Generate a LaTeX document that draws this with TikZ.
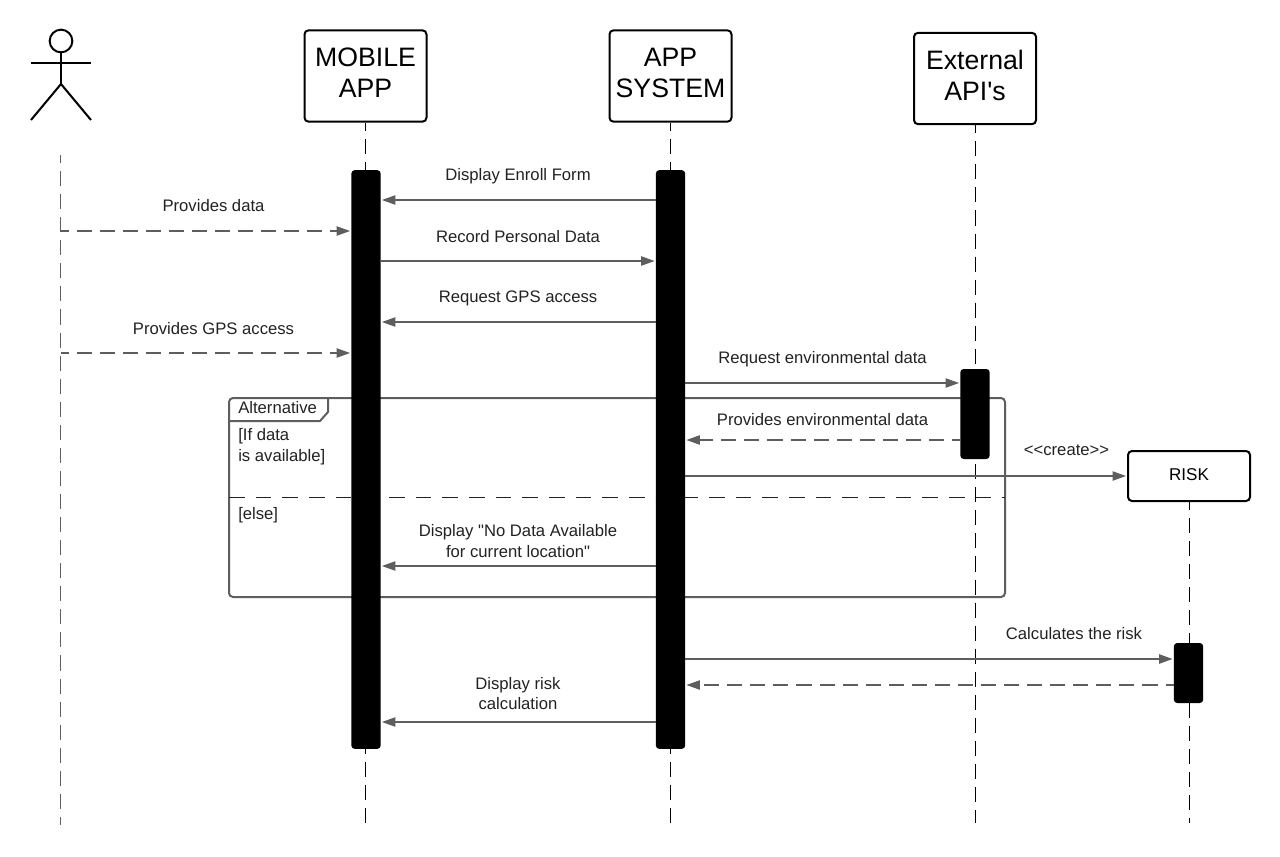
\documentclass[tikz,border=0pt]{standalone}
\usepackage{fontspec}
\setmainfont{Liberation Sans}[Ligatures=TeXOff]
\usetikzlibrary{arrows.meta}
\definecolor{linegray}{HTML}{5E5E5E}
\definecolor{textgray}{HTML}{222222}
\newcommand{\headlines}[2]{\raisebox{1.4pt}{\begin{tabular}{@{}c@{}}#1\\#2\end{tabular}}}
\tikzset{
  head/.style={draw=black,line width=1.5pt,rounded corners=3pt,fill=white,inner sep=0pt,align=center,
    text=black,font=\fontsize{20}{23.2}\selectfont,minimum width=91.5pt,minimum height=68.5pt},
  bar/.style={fill=black,rounded corners=2.5pt,inner sep=0pt,minimum width=22pt},
  life/.style={draw=black,line width=.75pt,dash pattern=on 11.3pt off 6pt,dash phase=5.25pt},
  msg/.style={draw=linegray,line width=.8pt,shorten >=.8pt,-{Triangle[length=10pt,width=7pt]}},
  back/.style={msg,dash pattern=on 11.3pt off 6pt,dash phase=5.25pt},
  lbl/.style={text=textgray,inner sep=0pt,align=center,font=\fontsize{12.5}{15.6}\selectfont},
  lblleft/.style={lbl,align=left,anchor=north west}
}
\begin{document}
\begin{tikzpicture}[x=.75pt,y=-.75pt]
  \useasboundingbox (0,0) rectangle (1280,856);

  % lifelines
  \coordinate (userTop) at (60.5,155);
  \coordinate (userEnd) at (60.5,825);
  \coordinate (mobileEnd) at (365.5,823);
  \coordinate (systemEnd) at (670.5,823);
  \coordinate (apiEnd) at (975,823);
  \coordinate (riskEnd) at (1189,823);

  \node[head] (mobile) at (365.5,76) {\headlines{MOBILE}{APP}};
  \node[head] (system) at (670.5,76) {\headlines{APP}{SYSTEM}};
  \node[head] (api) at (975,78.5) {\headlines{External}{API's}};
  \node[head,font=\fontsize{12.8}{15}\selectfont,minimum height=37.5pt] (risk) at (1189,476) {\raisebox{2.5pt}{RISK}};

  \draw[life,draw=linegray,line width=1pt] (userTop) -- (userEnd);
  \draw[life] (mobile) -- (mobileEnd);
  \draw[life] (system) -- (systemEnd);
  \draw[life] (api) -- (apiEnd);
  \draw[life] (risk) -- (riskEnd);

  % actor
  \node[circle,draw=black,line width=1.5pt,minimum size=17pt,inner sep=0pt] (userHead) at (61,41) {};
  \coordinate (userHip) at (61,84);
  \coordinate (userArmL) at (31,63);
  \coordinate (userArmR) at (91,63);
  \coordinate (userFootL) at (31,120);
  \coordinate (userFootR) at (91,120);
  \draw[black,line width=1.5pt] (userHead) -- (userHip);
  \draw[black,line width=1.5pt] (userArmL) -- (userArmR);
  \draw[black,line width=1.5pt] (userFootL) -- (userHip) -- (userFootR);

  % alternative frame
  \draw[linegray,line width=1.5pt,rounded corners=3pt] (229,398) rectangle (1005,597);
  \draw[linegray,line width=1.5pt] (328,398) -- (328,412) -- (320,421) -- (229,421);
  \draw[textgray,line width=1.4pt,dash pattern=on 11.8pt off 8.2pt] (229,497.5) -- (1005,497.5);
  \node[lbl,anchor=west] (altname) at (238,408) {Alternative};
  \node[lblleft] (altif) at (238,428) {[If data\\is available]};
  \node[lblleft] (altelse) at (238,507) {[else]};

  % activation bars
  \node[bar,minimum height=434pt] (mobilebar) at (366,459.5) {};
  \node[bar,minimum height=434pt] (systembar) at (670.5,459.5) {};
  \node[bar,minimum height=67.5pt] (apibar) at (975,414) {};
  \node[bar,minimum height=45pt] (riskbar) at (1188.5,673) {};

  % messages
  \draw[msg] (systembar.west |- 0,200) -- (mobilebar.east |- 0,200);
  \draw[back] (userTop |- 0,231) -- (mobilebar.west |- 0,231);
  \draw[msg] (mobilebar.east |- 0,261) -- (systembar.west |- 0,261);
  \draw[msg] (systembar.west |- 0,322) -- (mobilebar.east |- 0,322);
  \draw[back] (userTop |- 0,353) -- (mobilebar.west |- 0,353);
  \draw[msg] (systembar.east |- 0,383) -- (apibar.west |- 0,383);
  \draw[back] (apibar.west |- 0,440) -- (systembar.east |- 0,440);
  \draw[msg] (systembar.east |- 0,476) -- (risk.west |- 0,476);
  \draw[msg] (systembar.west |- 0,566) -- (mobilebar.east |- 0,566);
  \draw[msg] (systembar.east |- 0,659) -- (riskbar.west |- 0,659);
  \draw[back] (riskbar.west |- 0,685) -- (systembar.east |- 0,685);
  \draw[msg] (systembar.west |- 0,722) -- (mobilebar.east |- 0,722);

  % labels
  \node[lbl] (enroll) at (518,176.5) {Display Enroll Form};
  \node[lbl] (provides) at (213.5,206) {Provides data};
  \node[lbl] (record) at (518,237) {Record Personal Data};
  \node[lbl] (reqgps) at (518,298.5) {Request GPS access};
  \node[lbl] (provgps) at (213.5,329) {Provides GPS access};
  \node[lbl] (reqenv) at (822.5,359.5) {Request environmental data};
  \node[lbl] (provenv) at (822.5,420) {Provides environmental data};
  \node[lbl] (create) at (1066.5,450.5) {<<create>>};
  \node[lbl] (nodata) at (518,541) {Display "No Data Available\\for current location"};
  \node[lbl] (calc) at (1074,634) {Calculates the risk};
  \node[lbl] (disprisk) at (518,693.5) {Display risk\\calculation};
\end{tikzpicture}
\end{document}
